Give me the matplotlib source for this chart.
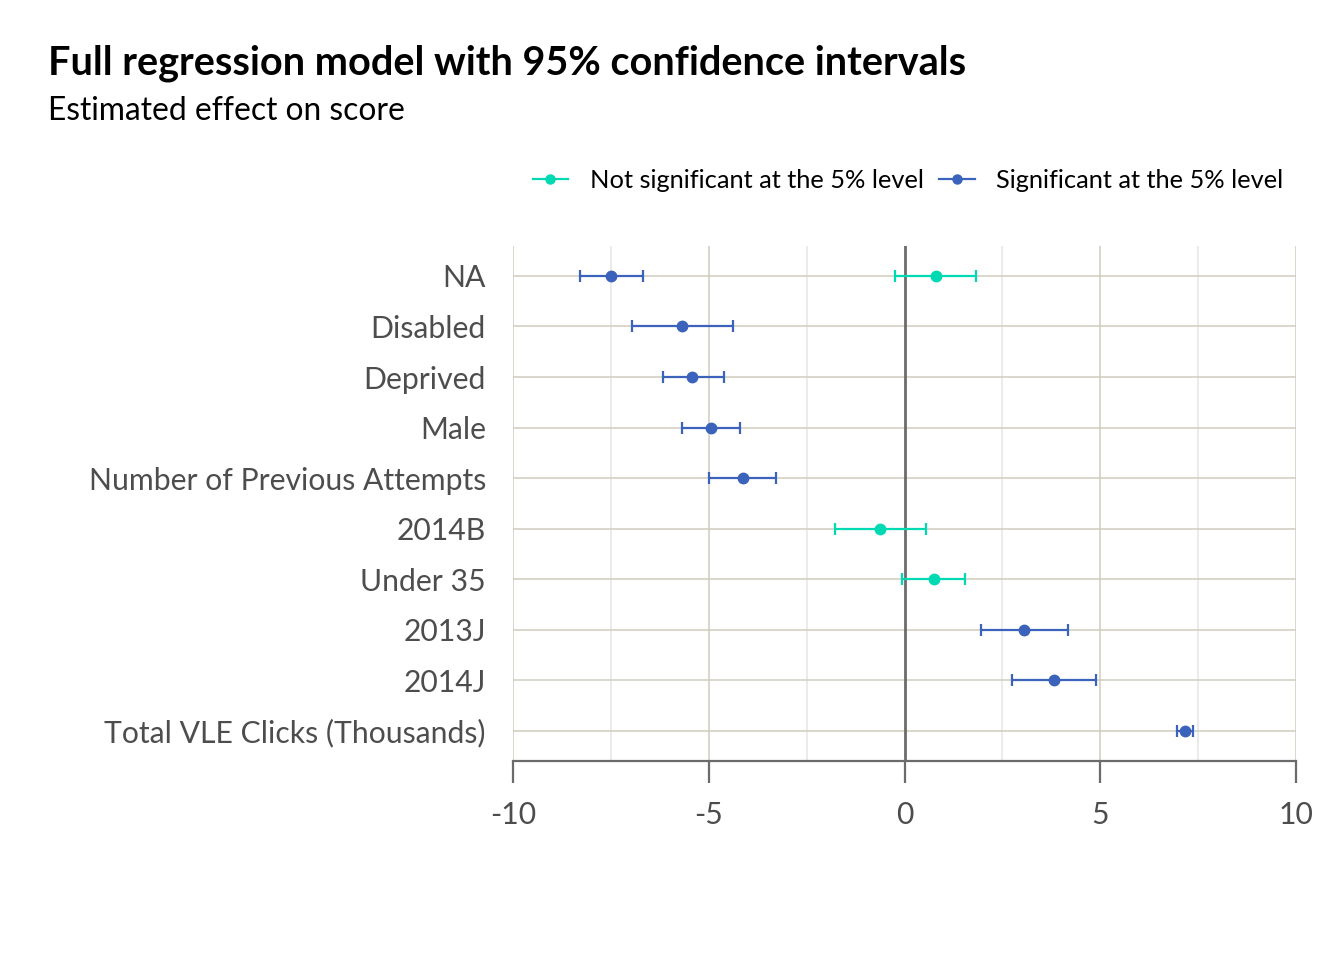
import matplotlib.pyplot as plt
from matplotlib.lines import Line2D

plt.rcParams["font.family"] = ["Lato", "DejaVu Sans"]

# ------------------------------------------------------------------
# Data
# ------------------------------------------------------------------
terms = [
    "NA",
    "Disabled",
    "Deprived",
    "Male",
    "Number of Previous Attempts",
    "2014B",
    "Under 35",
    "2013J",
    "2014J",
    "Total VLE Clicks (Thousands)",
]
estimate = [0.80, -5.68, -5.43, -4.94, -4.13, -0.63, 0.75, 3.05, 3.82, 7.16]
conf_low = [-0.24, -6.96, -6.17, -5.68, -5.00, -1.78, -0.06, 1.95, 2.75, 6.96]
conf_high = [1.83, -4.38, -4.61, -4.20, -3.28, 0.55, 1.55, 4.18, 4.89, 7.37]
significant = [False, True, True, True, True, False, False, True, True, True]

# the NA row has a second (significant) estimate
extra_term = "NA"
extra_estimate = -7.50
extra_low = -8.29
extra_high = -6.68

GREEN = "#00d9b1"
BLUE = "#3b63bb"
GRID = "#cfcdbf"
MINOR = "#e6e6e6"
AXIS = "#6b6b6b"
TEXT = "#4d4d4d"


def draw_ci(ax, x, lo, hi, y, color):
    ax.errorbar(
        x, y, xerr=[[x - lo], [hi - x]],
        fmt="o", color=color, ecolor=color, elinewidth=1.6,
        capsize=4.5, capthick=1.6, markersize=7.5, zorder=4,
    )


def main():
    fig = plt.figure(figsize=(13.44, 9.6), dpi=100)
    ax = fig.add_axes([0.3817, 0.2073, 0.5826, 0.5365])

    ypos = {t: i for i, t in enumerate(terms)}

    for t, est, lo, hi, sig in zip(terms, estimate, conf_low, conf_high, significant):
        draw_ci(ax, est, lo, hi, ypos[t], BLUE if sig else GREEN)
    draw_ci(ax, extra_estimate, extra_low, extra_high, ypos[extra_term], BLUE)

    ax.set_xlim(-10, 10)
    ax.set_ylim(len(terms) - 1 + 0.593, -0.593)
    ax.set_yticks(range(len(terms)))
    ax.set_yticklabels(terms)
    ax.set_xticks([-10, -5, 0, 5, 10])
    ax.set_xticks([-7.5, -2.5, 2.5, 7.5], minor=True)

    # grid
    for v in [-7.5, -2.5, 2.5, 7.5]:
        ax.axvline(v, color=MINOR, lw=1.1, zorder=0)
    for v in [-10, -5, 5, 10]:
        ax.axvline(v, color=GRID, lw=1.1, zorder=1)
    for i in range(len(terms)):
        ax.axhline(i, color=GRID, lw=1.1, zorder=1)
    ax.axvline(0, color=AXIS, lw=2.0, zorder=2)

    for s in ["top", "right", "left"]:
        ax.spines[s].set_visible(False)
    ax.spines["bottom"].set_color(AXIS)
    ax.spines["bottom"].set_linewidth(1.6)

    ax.tick_params(axis="y", length=0, pad=19.5, labelsize=21.7, labelcolor=TEXT)
    ax.tick_params(axis="x", which="major", length=16, width=1.6, color=AXIS,
                   pad=13, labelsize=21.7, labelcolor=TEXT)
    ax.tick_params(axis="x", which="minor", length=0)
    ax.set_xticklabels(["-10", "-5", "0", "5", "10"])

    fig.text(0.036, 0.922, "Full regression model with 95% confidence intervals",
             fontsize=28.5, fontweight="bold", color="black", va="baseline")
    fig.text(0.036, 0.875, "Estimated effect on score",
             fontsize=22.9, color="black", va="baseline")

    handles = [
        Line2D([0], [0], color=GREEN, marker="o", markersize=6.5, lw=1.6),
        Line2D([0], [0], color=BLUE, marker="o", markersize=6.5, lw=1.6),
    ]
    fig.legend(handles, ["Not significant at the 5% level", "Significant at the 5% level"],
               loc="center right", bbox_to_anchor=(0.9645, 0.812), ncol=2, frameon=False,
               fontsize=18.3, handlelength=1.4, handletextpad=0.85, columnspacing=0.6,
               borderpad=0)

    fig.savefig("out.png", dpi=100)
    plt.close(fig)


if __name__ == "__main__":
    main()
